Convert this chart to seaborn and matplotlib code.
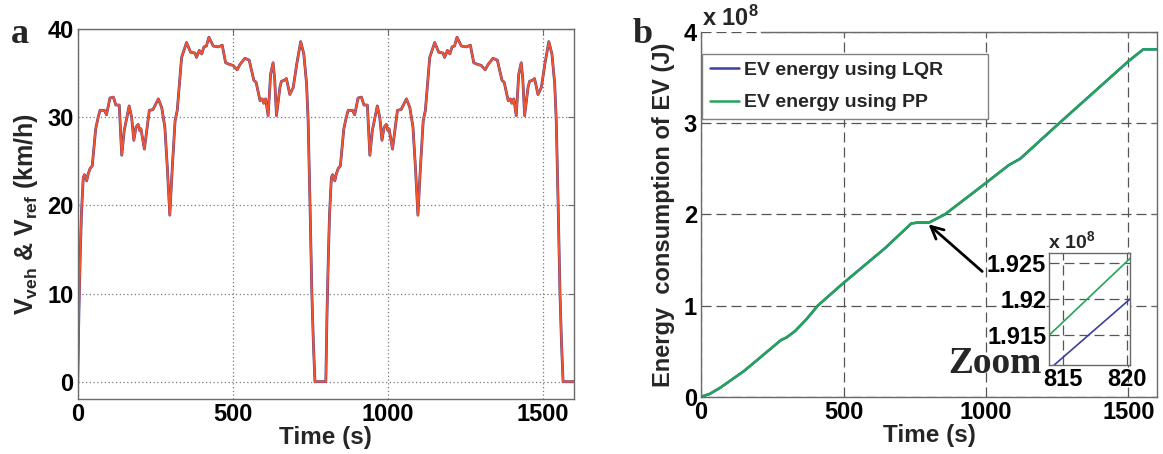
import matplotlib
matplotlib.use('Agg')
import matplotlib.pyplot as plt
import seaborn as sns

sns.set_theme(style='white')
plt.rcParams['font.family'] = ['Liberation Sans', 'DejaVu Sans']
plt.rcParams['font.weight'] = 'bold'
plt.rcParams['mathtext.fontset'] = 'custom'
plt.rcParams['mathtext.rm'] = 'Liberation Sans:bold'
plt.rcParams['mathtext.it'] = 'Liberation Sans:bold'
plt.rcParams['mathtext.bf'] = 'Liberation Sans:bold'

# ─── Data: panel a, vehicle speed (km/h), two driving cycles ─
time_c1 = [0, 4, 8, 12, 15, 18, 22, 29, 34, 40,
           47, 58, 66, 72, 86, 93, 104, 115, 123, 134,
           142, 150, 166, 174, 181, 188, 195, 200, 204, 215,
           231, 243, 260, 271, 281, 289, 297, 305, 314, 321,
           335, 351, 364, 378, 383, 392, 400, 407, 415, 423,
           437, 453, 466, 477, 491, 501, 514, 523, 539, 553,
           568, 575, 588, 595, 600, 606, 614, 622, 630, 635,
           641, 652, 657, 665, 673, 684, 695, 706, 719, 729,
           738, 743, 749, 755, 760, 765, 800]
speed_c1 = [0, 8, 14, 19, 21, 23.2, 23.5, 22.8, 23.6, 24.2,
            24.5, 28.7, 30.0, 30.8, 30.8, 30.3, 32.2, 32.3, 31.4, 31.4,
            25.7, 28.5, 31.3, 30.0, 27.4, 28.9, 29.2, 28.5, 28.7, 26.4,
            30.8, 30.9, 32.1, 31.1, 28.9, 24.3, 18.9, 24.3, 29.6, 30.8,
            36.8, 38.5, 37.4, 37.3, 36.8, 37.6, 37.2, 38.0, 38.1, 39.1,
            38.1, 38.0, 38.2, 36.2, 36.0, 35.9, 35.4, 36.0, 36.7, 36.5,
            34.2, 34.0, 31.9, 32.1, 31.6, 32.1, 30.2, 34.9, 36.2, 34.4,
            30.2, 33.4, 34.1, 34.2, 34.4, 32.6, 33.4, 36.0, 38.6, 37.2,
            33.8, 29.6, 20.2, 10.0, 4.3, 0, 0]
time_c2 = [804, 808, 812, 815, 818, 822, 829, 834, 840,
           847, 858, 866, 872, 886, 893, 904, 915, 923, 934,
           942, 950, 966, 974, 981, 988, 995, 1000, 1004, 1015,
           1031, 1043, 1060, 1071, 1081, 1089, 1097, 1105, 1114, 1121,
           1135, 1151, 1164, 1178, 1183, 1192, 1200, 1207, 1215, 1223,
           1237, 1253, 1266, 1277, 1291, 1301, 1314, 1323, 1339, 1353,
           1368, 1375, 1388, 1395, 1400, 1406, 1414, 1422, 1430, 1435,
           1441, 1452, 1457, 1465, 1473, 1484, 1495, 1506, 1519, 1529,
           1538, 1543, 1549, 1555, 1560, 1565, 1600]
speed_c2 = [8, 14, 19, 21, 23.2, 23.5, 22.8, 23.6, 24.2,
            24.5, 28.7, 30.0, 30.8, 30.8, 30.3, 32.2, 32.3, 31.4, 31.4,
            25.7, 28.5, 31.3, 30.0, 27.4, 28.9, 29.2, 28.5, 28.7, 26.4,
            30.8, 30.9, 32.1, 31.1, 28.9, 24.3, 18.9, 24.3, 29.6, 30.8,
            36.8, 38.5, 37.4, 37.3, 36.8, 37.6, 37.2, 38.0, 38.1, 39.1,
            38.1, 38.0, 38.2, 36.2, 36.0, 35.9, 35.4, 36.0, 36.7, 36.5,
            34.2, 34.0, 31.9, 32.1, 31.6, 32.1, 30.2, 34.9, 36.2, 34.4,
            30.2, 33.4, 34.1, 34.2, 34.4, 32.6, 33.4, 36.0, 38.6, 37.2,
            33.8, 29.6, 20.2, 10.0, 4.3, 0, 0]
time_v = time_c1 + time_c2
v_ref = speed_c1 + speed_c2
v_veh = list(v_ref)  # vehicle speed tracks the reference almost exactly

# ─── Data: panel b, energy consumption (x 1e8 J) ─────────────
time_e = [0, 30, 68, 150, 200, 280, 300, 330, 370, 410, 497, 646, 738, 760,
          800, 856, 998, 1080, 1120, 1257, 1500, 1552, 1600]
energy_lqr = [0, 0.03, 0.10, 0.28, 0.41, 0.62, 0.65, 0.72, 0.85, 1.0, 1.24,
              1.63, 1.90, 1.91, 1.91, 2.0, 2.34, 2.54, 2.61, 3.0, 3.68, 3.81,
              3.81]
energy_pp = list(energy_lqr)

# zoomed window around t = 815..820 s
zoom_t_lqr = [814.3, 820.2]
zoom_e_lqr = [1.9109, 1.9200]
zoom_t_pp = [813.9, 820.2]
zoom_e_pp = [1.9150, 1.9256]

c_blue, c_red, c_green = '#3b3f9e', '#f2542d', '#22a55a'
spine_c = '#6a6a6a'
tick_fs = 17

fig = plt.figure(figsize=(11.63, 4.54), dpi=100)


def style_box(ax):
    for s in ax.spines.values():
        s.set_visible(True)
        s.set_color(spine_c)
        s.set_linewidth(1)
    ax.tick_params(direction='in', top=True, right=True, length=4, width=0.8,
                   color=spine_c, labelsize=tick_fs, pad=3, labelcolor='black')
    for lab in ax.get_xticklabels() + ax.get_yticklabels():
        lab.set_fontweight('bold')


# ─── Panel a ─────────────────────────────────────────────────
ax1 = fig.add_axes([0.0668, 0.1205, 0.4267, 0.815])
sns.lineplot(x=time_v, y=v_veh, ax=ax1, color=c_blue, lw=2.0,
             estimator=None, sort=False)
sns.lineplot(x=time_v, y=v_ref, ax=ax1, color=c_red, lw=1.5,
             estimator=None, sort=False)
ax1.set_xlim(0, 1600)
ax1.set_ylim(-2, 40)
ax1.set_xticks([0, 500, 1000, 1500])
ax1.set_yticks([0, 10, 20, 30, 40])
ax1.grid(True, linestyle=(0, (1, 2)), color='#7a7a7a', lw=0.9)
style_box(ax1)
ax1.set_xlabel('Time (s)', fontsize=17.5, fontweight='bold', labelpad=0)
ax1.set_ylabel(r'$V_{veh}$ & $V_{ref}$ (km/h)', fontsize=18,
               fontweight='bold', labelpad=5)

# ─── Panel b ─────────────────────────────────────────────────
ax2 = fig.add_axes([0.6028, 0.1262, 0.392, 0.8033])
sns.lineplot(x=time_e, y=energy_lqr, ax=ax2, color=c_blue, lw=1.8,
             estimator=None, sort=False, label='EV energy using LQR')
sns.lineplot(x=time_e, y=energy_pp, ax=ax2, color=c_green, lw=1.8,
             estimator=None, sort=False, label='EV energy using PP')
ax2.set_xlim(0, 1600)
ax2.set_ylim(0, 4)
ax2.set_xticks([0, 500, 1000, 1500])
ax2.set_yticks([0, 1, 2, 3, 4])
ax2.grid(True, linestyle=(0, (8, 4)), color='#555555', lw=0.9)
style_box(ax2)
ax2.spines['top'].set_bounds(210, 1600)
ax2.set_xlabel('Time (s)', fontsize=17.5, fontweight='bold', labelpad=0)
ax2.set_ylabel('Energy  consumption of EV (J)', fontsize=17,
               fontweight='bold', labelpad=6)
ax2.text(0.003, 1.016, r'x 10$^{8}$', transform=ax2.transAxes, fontsize=17,
         ha='left', va='baseline')

leg = ax2.legend(loc='upper left', bbox_to_anchor=(0.0015, 0.767, 0.628, 0.173),
                 mode='expand', borderaxespad=0, fontsize=14, handlelength=1.5,
                 handletextpad=0.25, labelspacing=0.75, borderpad=0.4,
                 fancybox=False, framealpha=1, edgecolor='#808080')
for t in leg.get_texts():
    t.set_fontweight('bold')
leg.get_frame().set_linewidth(1)

ax2.annotate('', xy=(791, 1.91), xytext=(994, 1.354),
             arrowprops=dict(arrowstyle='->', lw=2, color='black',
                             mutation_scale=22))

# ─── Inset ───────────────────────────────────────────────────
axin = fig.add_axes([0.902, 0.196, 0.0696, 0.2474])
sns.lineplot(x=zoom_t_lqr, y=zoom_e_lqr, ax=axin, color=c_blue, lw=1.2,
             estimator=None, sort=False)
sns.lineplot(x=zoom_t_pp, y=zoom_e_pp, ax=axin, color=c_green, lw=1.2,
             estimator=None, sort=False)
axin.set_xlim(813.9, 820.2)
axin.set_ylim(1.9109, 1.9264)
axin.set_xticks([815, 820])
axin.set_yticks([1.915, 1.92, 1.925])
axin.set_yticklabels(['1.915', '1.92', '1.925'])
axin.grid(True, linestyle=(0, (8, 4)), color='#555555', lw=0.9)
style_box(axin)
axin.tick_params(top=False, right=False, pad=2)
fig.text(0.901, 0.4537, r'x 10$^{8}$', fontsize=14, fontweight='bold',
         ha='left', va='baseline')
fig.text(948 / 1163, (454 - 373) / 454, 'Zoom', fontsize=27,
         family='Liberation Serif', fontweight='bold', ha='left',
         va='baseline')

# panel letters
fig.text(11 / 1163, (454 - 43) / 454, 'a', fontsize=26,
         family='Liberation Serif', fontweight='bold', va='baseline')
fig.text(633 / 1163, (454 - 43) / 454, 'b', fontsize=26,
         family='Liberation Serif', fontweight='bold', va='baseline')

plt.savefig('out.png', dpi=100)
plt.close()
